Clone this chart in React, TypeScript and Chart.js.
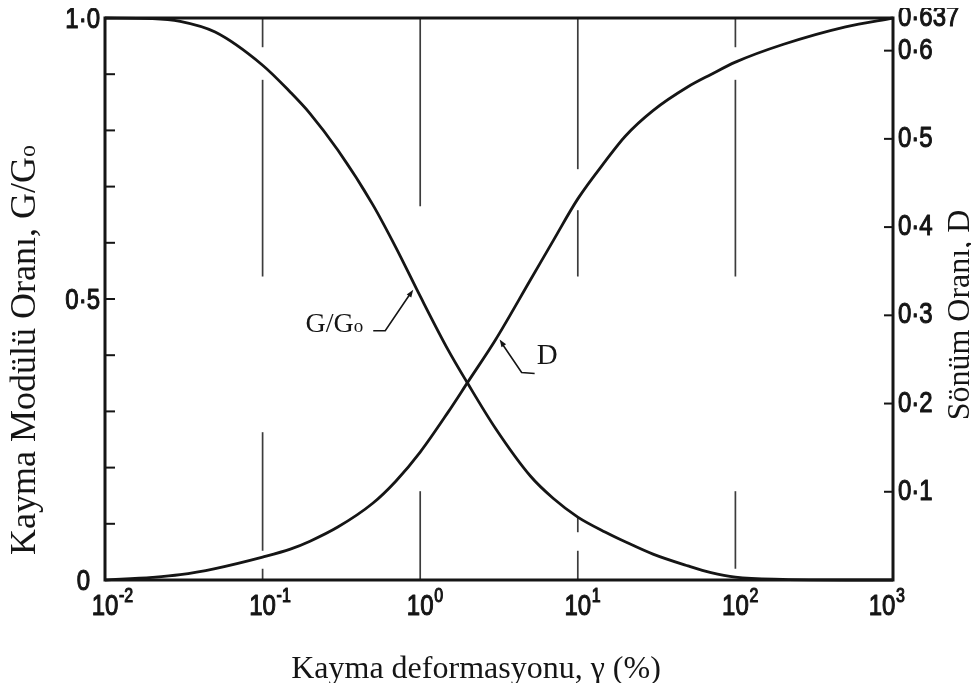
import React, { useEffect, useRef } from "react";
import { Chart, registerables } from "chart.js";

Chart.register(...registerables);

// Shear strain (%) and the two curves read along it
const strainPct = [0.01, 0.02, 0.03, 0.05, 0.1, 0.15, 0.2, 0.3, 0.5, 0.7, 1, 1.5, 2, 3, 5, 7, 10, 15, 20, 30, 50, 70, 100, 200, 500, 1000];
const modulusRatio = [1.0, 0.999, 0.994, 0.975, 0.916, 0.868, 0.83, 0.765, 0.668, 0.592, 0.505, 0.41, 0.35, 0.27, 0.185, 0.145, 0.112, 0.085, 0.068, 0.046, 0.025, 0.013, 0.005, 0.001, 0, 0];
const dampingRatio = [0, 0.003, 0.006, 0.013, 0.026, 0.035, 0.044, 0.06, 0.087, 0.112, 0.145, 0.19, 0.224, 0.272, 0.34, 0.385, 0.432, 0.475, 0.503, 0.532, 0.559, 0.573, 0.587, 0.607, 0.627, 0.637];

// Axis ranges and ticks
const strainMin = 0.01;
const strainMax = 1000;
const dampingMax = 0.637;
const xTickExponents = [-2, -1, 0, 1, 2, 3];
const leftLabelValues = [0, 0.5, 1.0];
const leftLabelTexts = ["0", "0·5", "1·0"];
const leftMinorTicks = [0.1, 0.2, 0.3, 0.4, 0.5, 0.6, 0.7, 0.8, 0.9];
const rightTickValues = [0.1, 0.2, 0.3, 0.4, 0.5, 0.6];
const rightTickTexts = ["0·1", "0·2", "0·3", "0·4", "0·5", "0·6"];
const rightTopText = "0·637";

// Decade grid lines and the visible pieces of each (in G/Go units)
const gridDecades = [0.1, 1, 10, 100];
const gridSegments: number[][][] = [
  [[0.948, 1], [0.54, 0.89], [0.052, 0.263], [0, 0.02]],
  [[0.665, 1], [0, 0.158]],
  [[0.731, 1], [0.54, 0.658], [0.085, 0.112], [0, 0.052]],
  [[0.948, 1], [0.54, 0.89], [0.02, 0.158]],
];

// Curve labels: where each leader meets its curve
const modulusLabelAt = { strain: 0.93, value: 0.52 };
const dampingLabelAt = { strain: 3.1, value: 0.276 };

const INK = "#151515";
const SANS = '"Liberation Sans", Arial, sans-serif';
const SERIF = '"Liberation Serif", "Times New Roman", serif';

type Part = { t: string; size: number; dy: number };

function richWidth(ctx: CanvasRenderingContext2D, parts: Part[]) {
  let w = 0;
  for (const p of parts) {
    ctx.font = `${p.size}px ${SERIF}`;
    w += ctx.measureText(p.t).width;
  }
  return w;
}

function drawRich(ctx: CanvasRenderingContext2D, parts: Part[], x: number, y: number, align: "left" | "center" | "right") {
  const w = richWidth(ctx, parts);
  let cx = align === "left" ? x : align === "center" ? x - w / 2 : x - w;
  ctx.textAlign = "left";
  ctx.textBaseline = "alphabetic";
  for (const p of parts) {
    ctx.font = `${p.size}px ${SERIF}`;
    ctx.fillText(p.t, cx, y + p.dy);
    cx += ctx.measureText(p.t).width;
  }
}

function tickText(ctx: CanvasRenderingContext2D, text: string, x: number, y: number, align: CanvasTextAlign, size: number) {
  ctx.save();
  ctx.translate(x, y);
  ctx.scale(1, 1.22);
  ctx.font = `${size}px ${SANS}`;
  ctx.textAlign = align;
  ctx.textBaseline = "middle";
  ctx.lineWidth = 0.9;
  ctx.lineJoin = "round";
  ctx.fillText(text, 0, 0);
  ctx.strokeText(text, 0, 0);
  ctx.restore();
}

function arrowHead(ctx: CanvasRenderingContext2D, fx: number, fy: number, tx: number, ty: number) {
  const ang = Math.atan2(ty - fy, tx - fx);
  const len = 8;
  const spread = 0.35;
  ctx.beginPath();
  ctx.moveTo(tx, ty);
  ctx.lineTo(tx - len * Math.cos(ang - spread), ty - len * Math.sin(ang - spread));
  ctx.lineTo(tx - len * Math.cos(ang + spread), ty - len * Math.sin(ang + spread));
  ctx.closePath();
  ctx.fill();
}

const paperPlugin = {
  id: "paper",
  beforeDatasetsDraw(chart: any) {
    const { ctx, scales } = chart;
    const x = scales.x;
    const y = scales.y;
    ctx.save();
    ctx.strokeStyle = "#3c3c3c";
    ctx.lineWidth = 1.7;
    gridDecades.forEach((g, i) => {
      const px = x.getPixelForValue(g);
      gridSegments[i].forEach(([v0, v1]) => {
        ctx.beginPath();
        ctx.moveTo(px, y.getPixelForValue(v0));
        ctx.lineTo(px, y.getPixelForValue(v1));
        ctx.stroke();
      });
    });
    ctx.restore();
  },
  afterDatasetsDraw(chart: any) {
    const { ctx, chartArea: a, scales } = chart;
    const x = scales.x;
    const y = scales.y;
    const y2 = scales.y2;
    ctx.save();
    ctx.strokeStyle = INK;
    ctx.fillStyle = INK;

    // frame
    ctx.lineWidth = 3;
    ctx.strokeRect(a.left, a.top, a.right - a.left, a.bottom - a.top);

    // inward tick marks
    ctx.lineWidth = 2;
    leftMinorTicks.forEach((v) => {
      const py = y.getPixelForValue(v);
      ctx.beginPath();
      ctx.moveTo(a.left, py);
      ctx.lineTo(a.left + 10, py);
      ctx.stroke();
    });
    rightTickValues.forEach((v) => {
      const py = y2.getPixelForValue(v);
      ctx.beginPath();
      ctx.moveTo(a.right, py);
      ctx.lineTo(a.right - 9, py);
      ctx.stroke();
    });

    // left tick labels
    leftLabelValues.forEach((v, i) => {
      const py = y.getPixelForValue(v);
      const rx = v === 0 ? a.left - 15 : a.left - 5;
      tickText(ctx, leftLabelTexts[i], rx, py + 2, "right", 24);
    });

    // right tick labels
    rightTickValues.forEach((v, i) => {
      tickText(ctx, rightTickTexts[i], a.right + 5, y2.getPixelForValue(v), "left", 24);
    });
    tickText(ctx, rightTopText, a.right + 5, y2.getPixelForValue(dampingMax), "left", 24);

    // x tick labels: 10 with a raised exponent
    xTickExponents.forEach((e, i) => {
      let px = x.getPixelForValue(Math.pow(10, e));
      if (i === xTickExponents.length - 1) px -= 11;
      tickText(ctx, "10", px, a.bottom + 27, "center", 24);
      tickText(ctx, String(e), px + 14, a.bottom + 17, "left", 16);
    });

    // curve labels with leaders
    ctx.lineWidth = 1.6;
    const gx = x.getPixelForValue(modulusLabelAt.strain);
    const gy = y.getPixelForValue(modulusLabelAt.value);
    ctx.beginPath();
    ctx.moveTo(gx - 42, gy + 43);
    ctx.lineTo(gx - 30, gy + 43);
    ctx.lineTo(gx - 5, gy + 6);
    ctx.stroke();
    arrowHead(ctx, gx - 30, gy + 43, gx - 2, gy + 2);
    drawRich(ctx, [
      { t: "G/G", size: 28, dy: 0 },
      { t: "o", size: 19, dy: 0 },
    ], gx - 52, gy + 44, "right");

    const dx = x.getPixelForValue(dampingLabelAt.strain);
    const dy = y2.getPixelForValue(dampingLabelAt.value);
    ctx.beginPath();
    ctx.moveTo(dx + 5, dy + 8);
    ctx.lineTo(dx + 24, dy + 36);
    ctx.lineTo(dx + 37, dy + 37);
    ctx.stroke();
    arrowHead(ctx, dx + 24, dy + 36, dx + 2, dy + 3);
    drawRich(ctx, [{ t: "D", size: 29, dy: 0 }], dx + 39, dy + 28, "left");

    // axis titles
    drawRich(ctx, [{ t: "Kayma deformasyonu, γ (%)", size: 32, dy: 0 }], 468, 670, "center");

    ctx.save();
    ctx.translate(27, 342);
    ctx.rotate(-Math.PI / 2);
    drawRich(ctx, [
      { t: "Kayma Modülü Oranı, G/G", size: 36, dy: 0 },
      { t: "o", size: 24, dy: 0 },
    ], 0, 0, "center");
    ctx.restore();

    ctx.save();
    ctx.translate(961, 307);
    ctx.rotate(-Math.PI / 2);
    drawRich(ctx, [{ t: "Sönüm Oranı, D", size: 32, dy: 0 }], 0, 0, "center");
    ctx.restore();

    ctx.restore();
  },
};

export default function App() {
  const ref = useRef<HTMLCanvasElement>(null);

  useEffect(() => {
    if (!ref.current) return;
    const chart = new Chart(ref.current, {
      type: "line",
      data: {
        datasets: [
          {
            label: "G/Go",
            data: strainPct.map((s, i) => ({ x: s, y: modulusRatio[i] })),
            yAxisID: "y",
            borderColor: INK,
            borderWidth: 2.8,
            pointRadius: 0,
            cubicInterpolationMode: "monotone",
            clip: false as any,
          },
          {
            label: "D",
            data: strainPct.map((s, i) => ({ x: s, y: dampingRatio[i] })),
            yAxisID: "y2",
            borderColor: INK,
            borderWidth: 2.8,
            pointRadius: 0,
            cubicInterpolationMode: "monotone",
            clip: false as any,
          },
        ],
      },
      options: {
        animation: false,
        responsive: true,
        maintainAspectRatio: false,
        layout: { padding: { left: 97, right: 78, top: 10, bottom: 103 } },
        plugins: { legend: { display: false }, tooltip: { enabled: false } },
        scales: {
          x: { type: "logarithmic", min: strainMin, max: strainMax, display: false },
          y: { type: "linear", min: 0, max: 1, display: false },
          y2: { type: "linear", position: "right", min: 0, max: dampingMax, display: false },
        },
      },
      plugins: [paperPlugin],
    });
    return () => chart.destroy();
  }, []);

  return (
    <div style={{ width: 963, height: 675, position: "relative" }}>
      <canvas ref={ref} />
    </div>
  );
}
